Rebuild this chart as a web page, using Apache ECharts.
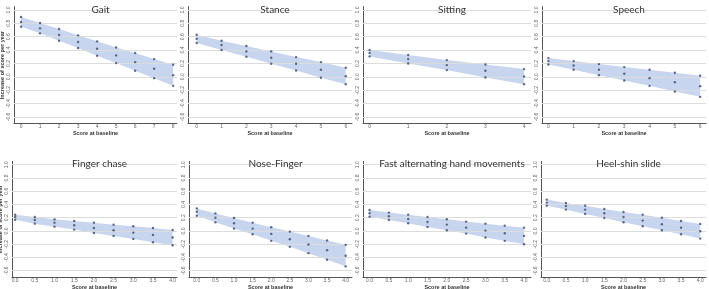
<!DOCTYPE html>
<html>
<head>
<meta charset="utf-8">
<script src="https://cdn.jsdelivr.net/npm/echarts@6/dist/echarts.min.js"></script>
<style>
  html, body { margin: 0; padding: 0; background: #fff; }
  #chart { width: 709px; height: 289px; }
</style>
</head>
<body>
<div id="chart"></div>
<script>
// scores at baseline
const gaitX = [0, 1, 2, 3, 4, 5, 6, 7, 8]
const stanceX = [0, 1, 2, 3, 4, 5, 6]
const sittingX = [0, 1, 2, 3, 4]
const speechX = [0, 1, 2, 3, 4, 5, 6]
const halfX = [0, 0.5, 1, 1.5, 2, 2.5, 3, 3.5, 4]

const yTicks = [-0.6, -0.4, -0.2, 0, 0.2, 0.4, 0.6, 0.8, 1.0]

// increase of score per year: estimate + 95% band
const gaitMean = [0.82, 0.725, 0.625, 0.52, 0.42, 0.32, 0.22, 0.12, 0.025]
const gaitUpper = [0.895, 0.805, 0.715, 0.62, 0.53, 0.44, 0.355, 0.265, 0.18]
const gaitLower = [0.75, 0.65, 0.54, 0.43, 0.315, 0.205, 0.09, -0.02, -0.135]

const stanceMean = [0.57, 0.475, 0.38, 0.285, 0.195, 0.105, 0.01]
const stanceUpper = [0.63, 0.54, 0.46, 0.38, 0.295, 0.22, 0.135]
const stanceLower = [0.505, 0.40, 0.30, 0.195, 0.095, -0.015, -0.11]

const sittingMean = [0.355, 0.265, 0.175, 0.09, 0.005]
const sittingUpper = [0.40, 0.325, 0.25, 0.185, 0.115]
const sittingLower = [0.305, 0.20, 0.10, -0.01, -0.11]

const speechMean = [0.235, 0.17, 0.105, 0.045, -0.02, -0.08, -0.14]
const speechUpper = [0.28, 0.235, 0.19, 0.145, 0.105, 0.06, 0.015]
const speechLower = [0.185, 0.105, 0.025, -0.055, -0.135, -0.22, -0.30]

const fingerMean = [0.21, 0.165, 0.125, 0.085, 0.045, 0.01, -0.025, -0.06, -0.10]
const fingerUpper = [0.245, 0.21, 0.175, 0.15, 0.125, 0.095, 0.07, 0.045, 0.015]
const fingerLower = [0.17, 0.11, 0.065, 0.02, -0.03, -0.075, -0.12, -0.17, -0.215]

const noseMean = [0.29, 0.20, 0.115, 0.035, -0.045, -0.125, -0.205, -0.29, -0.375]
const noseUpper = [0.34, 0.265, 0.195, 0.125, 0.055, -0.01, -0.075, -0.145, -0.21]
const noseLower = [0.23, 0.13, 0.035, -0.05, -0.15, -0.24, -0.335, -0.435, -0.535]

const fastMean = [0.267, 0.221, 0.181, 0.136, 0.096, 0.05, 0.005, -0.035, -0.075]
const fastUpper = [0.317, 0.277, 0.246, 0.211, 0.176, 0.141, 0.11, 0.08, 0.05]
const fastLower = [0.216, 0.166, 0.116, 0.06, 0.01, -0.04, -0.10, -0.15, -0.20]

const heelMean = [0.428, 0.377, 0.322, 0.267, 0.211, 0.156, 0.10, 0.05, -0.005]
const heelUpper = [0.473, 0.423, 0.382, 0.332, 0.287, 0.246, 0.201, 0.151, 0.106]
const heelLower = [0.382, 0.322, 0.257, 0.196, 0.131, 0.07, 0.01, -0.05, -0.116]

const panels = [
  { title: 'Gait', x: gaitX, mean: gaitMean, upper: gaitUpper, lower: gaitLower, row: 0, left: 14, width: 163, xMin: -0.37, xMax: 8.2, yName: true },
  { title: 'Stance', x: stanceX, mean: stanceMean, upper: stanceUpper, lower: stanceLower, row: 0, left: 188, width: 164, xMin: -0.35, xMax: 6.25 },
  { title: 'Sitting', x: sittingX, mean: sittingMean, upper: sittingUpper, lower: sittingLower, row: 0, left: 363, width: 168, xMin: -0.17, xMax: 4.18 },
  { title: 'Speech', x: speechX, mean: speechMean, upper: speechUpper, lower: speechLower, row: 0, left: 542, width: 164, xMin: -0.25, xMax: 6.23 },
  { title: 'Finger chase', x: halfX, mean: fingerMean, upper: fingerUpper, lower: fingerLower, row: 1, left: 12, width: 165, xMin: -0.08, xMax: 4.11, yName: true },
  { title: 'Nose-Finger', x: halfX, mean: noseMean, upper: noseUpper, lower: noseLower, row: 1, left: 189, width: 163, xMin: -0.21, xMax: 4.17 },
  { title: 'Fast alternating hand movements', x: halfX, mean: fastMean, upper: fastUpper, lower: fastLower, row: 1, left: 363, width: 168, xMin: -0.17, xMax: 4.18 },
  { title: 'Heel-shin slide', x: halfX, mean: heelMean, upper: heelUpper, lower: heelLower, row: 1, left: 541, width: 165, xMin: -0.15, xMax: 4.15 }
]

const rows = [
  { top: 6.6, height: 117, titleTop: 0 },
  { top: 161.4, height: 115.9, titleTop: 154 }
]

const bandColor = '#c8d5ef'
const dotColor = '#3b4868'
const gridColor = '#dcdcdc'

const chart = echarts.init(document.getElementById('chart'))

const grid = []
const xAxis = []
const yAxis = []
const series = []
const title = []

panels.forEach((p, i) => {
  const r = rows[p.row]
  grid.push({ left: p.left, top: r.top, width: p.width, height: r.height, containLabel: false, outerBoundsMode: 'none' })
  title.push({
    text: p.title,
    left: p.left + p.width / 2,
    top: r.titleTop,
    textAlign: 'center',
    textStyle: { fontFamily: 'Lato', fontSize: 10, fontWeight: 'normal', color: '#333' }
  })
  xAxis.push({
    type: 'value',
    gridIndex: i,
    min: p.xMin,
    max: p.xMax,
    name: 'Score at baseline',
    nameLocation: 'middle',
    nameGap: 6,
    nameTextStyle: { fontFamily: 'Liberation Sans', fontSize: 5.5, fontWeight: 'bold', color: '#333' },
    axisLine: { onZero: false, lineStyle: { color: '#555', width: 1 } },
    axisTick: { show: false },
    splitLine: { show: false },
    axisLabel: {
      customValues: p.x,
      margin: 1,
      fontFamily: 'Liberation Sans',
      fontSize: 5,
      color: '#666',
      formatter: v => (p.row === 1 ? v.toFixed(1) : String(v))
    }
  })
  yAxis.push({
    type: 'value',
    gridIndex: i,
    min: -0.7,
    max: 1.05,
    name: p.yName ? 'Increase of score per year' : '',
    nameLocation: 'middle',
    nameRotate: 90,
    nameGap: 8,
    nameTextStyle: { fontFamily: 'Liberation Sans', fontSize: 5.5, fontWeight: 'bold', color: '#333' },
    axisLine: { show: true, onZero: false, lineStyle: { color: '#555', width: 1 } },
    axisTick: { show: false },
    splitLine: { show: false },
    axisLabel: {
      customValues: yTicks,
      rotate: 90,
      margin: 3,
      fontFamily: 'Liberation Sans',
      fontSize: 5,
      color: '#666',
      formatter: v => v.toFixed(1)
    }
  })
  // horizontal gridlines, carried by an invisible line on the lower bound
  series.push({
    type: 'line',
    xAxisIndex: i,
    yAxisIndex: i,
    z: 1,
    symbol: 'none',
    silent: true,
    lineStyle: { opacity: 0 },
    data: p.x.map((x, k) => [x, p.lower[k]]),
    markLine: {
      silent: true,
      symbol: 'none',
      label: { show: false },
      lineStyle: { color: gridColor, width: 1, type: 'solid' },
      data: yTicks.map(v => ({ yAxis: v }))
    }
  })
  // confidence band: polygon through upper points, back along lower points
  const poly = p.x.map((x, k) => [x, p.upper[k]])
    .concat(p.x.map((x, k) => [x, p.lower[k]]).reverse())
  series.push({
    type: 'custom',
    xAxisIndex: i,
    yAxisIndex: i,
    z: 2,
    silent: true,
    data: poly,
    renderItem: (params, api) => {
      if (params.dataIndex !== 0) return null
      return {
        type: 'polygon',
        shape: { points: poly.map(d => api.coord(d)) },
        style: { fill: bandColor }
      }
    }
  })
  series.push({
    type: 'scatter',
    xAxisIndex: i,
    yAxisIndex: i,
    symbolSize: 2.4,
    z: 5,
    itemStyle: { color: dotColor },
    data: p.x.map((x, k) => [x, p.upper[k]])
      .concat(p.x.map((x, k) => [x, p.mean[k]]))
      .concat(p.x.map((x, k) => [x, p.lower[k]]))
  })
})

chart.setOption({
  animation: false,
  title: title,
  grid: grid,
  xAxis: xAxis,
  yAxis: yAxis,
  series: series
})
</script>
</body>
</html>
